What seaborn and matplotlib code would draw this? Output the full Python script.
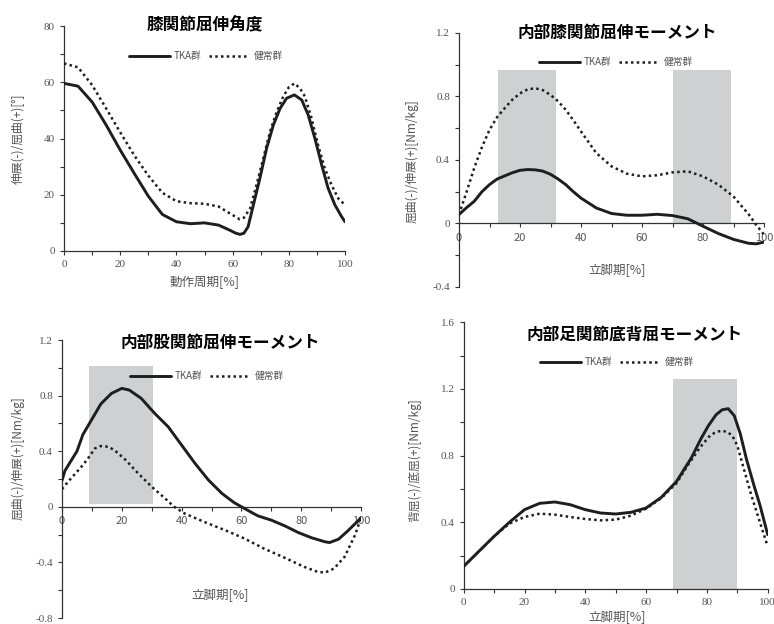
import matplotlib
matplotlib.use("Agg")
import matplotlib.pyplot as plt
import pandas as pd
import seaborn as sns

# ---------------- data ----------------
knee_tka_x = [0, 5, 10, 15, 20, 25, 30, 35, 40, 45, 50, 55, 59, 61, 62.6, 64, 65.5, 67.4, 69.7,
              72.1, 74.5, 76.9, 79.2, 82, 84.6, 86.9, 89.3, 91.7, 94, 96.4, 98.8, 100]
knee_tka = [59.6, 58.6, 53, 44.8, 35.9, 27.6, 19.5, 13, 10.4, 9.7, 10.0, 9.2, 7.4, 6.4, 5.9, 6.3,
            8.6, 16.4, 25.8, 36.5, 44.8, 50.7, 54.3, 55.5, 53.7, 48.4, 40, 30.6, 22.3, 16.4, 12.2,
            10.4]
knee_healthy_x = [0, 5, 10, 15, 20, 25, 30, 35, 40, 45, 50, 55, 59, 62.5, 64, 66.2, 68.5, 70.9,
                  73.3, 75.7, 78, 80, 82, 84, 85.7, 88.1, 90.4, 92.8, 95.2, 97.6, 100]
knee_healthy = [66.7, 65.3, 59, 50.7, 42.2, 34, 26.8, 20.7, 17.7, 17, 16.8, 15.8, 13.4, 11.3, 11.8,
                15.1, 23.5, 32.9, 42.4, 49.5, 54.9, 58.2, 59.6, 57.8, 55, 47.2, 37.7, 29.4, 23.5,
                18.7, 16.4]

kmom_x = [0, 2.5, 5, 7.5, 10, 12.5, 15, 17.5, 20, 22.5, 25, 27.5, 30, 32.5, 35, 37.5, 40, 45, 50,
          55, 60, 65, 70, 75, 80, 85, 90, 95, 97.5, 100]
kmom_tka = [0.057, 0.10, 0.14, 0.20, 0.245, 0.28, 0.30, 0.32, 0.335, 0.34, 0.338, 0.33, 0.31, 0.28,
            0.245, 0.20, 0.16, 0.098, 0.063, 0.052, 0.052, 0.058, 0.05, 0.03, -0.017, -0.063,
            -0.10, -0.125, -0.128, -0.117]
kmom_healthy = [0.057, 0.20, 0.35, 0.48, 0.59, 0.67, 0.727, 0.78, 0.82, 0.845, 0.852, 0.84, 0.81,
                0.77, 0.716, 0.65, 0.58, 0.444, 0.36, 0.314, 0.297, 0.304, 0.322, 0.329, 0.297,
                0.245, 0.17, 0.057, -0.01, -0.07]
kmom_spans = [(12.7, 31.7), (70.2, 89.2)]
kmom_span_top = 0.97

hip_x = [0, 1, 3, 5, 7, 10, 13, 16.5, 20, 22.5, 26.5, 31, 35.5, 40, 44.5, 49, 53.5, 57.5, 61,
         65.5, 70, 74.5, 79, 83.5, 88, 89.5, 92.5, 95.5, 100]
hip_tka = [0.19, 0.26, 0.33, 0.40, 0.52, 0.63, 0.74, 0.815, 0.852, 0.84, 0.78, 0.672, 0.576, 0.444,
           0.312, 0.192, 0.096, 0.031, -0.012, -0.065, -0.096, -0.137, -0.185, -0.223, -0.252,
           -0.257, -0.233, -0.175, -0.08]
hip_healthy_x = [0, 2, 4, 7, 9.5, 11, 13, 15.5, 17.5, 21, 25.5, 30, 34.5, 37.5, 41, 47.5, 54.5, 61,
                 67.5, 74.5, 81, 85.5, 88, 91, 94.5, 98, 100]
hip_healthy = [0.127, 0.18, 0.228, 0.30, 0.372, 0.42, 0.437, 0.432, 0.408, 0.343, 0.24, 0.144, 0.06,
               0.0, -0.048, -0.108, -0.168, -0.228, -0.30, -0.367, -0.432, -0.468, -0.473, -0.444,
               -0.36, -0.204, -0.08]
hip_spans = [(9.1, 30.5)]
hip_span_bottom = 0.02
hip_span_top = 1.01

ank_tka_x = [0, 5, 10, 15, 20, 25, 30, 35, 40, 45, 50, 55, 60, 65, 70, 75, 78, 80.5, 83, 85,
             87, 89, 91, 93, 95.5, 97.5, 100]
ank_tka = [0.136, 0.226, 0.316, 0.40, 0.476, 0.514, 0.522, 0.506, 0.476, 0.456, 0.45, 0.46, 0.486,
           0.55, 0.645, 0.79, 0.9, 0.98, 1.045, 1.075, 1.082, 1.04, 0.93, 0.78, 0.62, 0.5, 0.326]
ank_healthy_x = [0, 5, 10, 15, 20, 25, 30, 35, 40, 45, 50, 55, 60, 65, 70, 74.5, 78, 81, 83,
                 85, 87, 88.5, 90, 92, 94.5, 96.5, 98.5, 100]
ank_healthy = [0.136, 0.226, 0.316, 0.392, 0.432, 0.452, 0.446, 0.432, 0.42, 0.412, 0.416, 0.44,
               0.482, 0.545, 0.635, 0.764, 0.855, 0.92, 0.942, 0.95, 0.94, 0.915, 0.86, 0.73, 0.57,
               0.454, 0.34, 0.256]
ank_spans = [(68.8, 89.9)]
ank_span_top = 1.258

# ---------------- style ----------------
sns.set_style("ticks")
plt.rcParams["font.family"] = ["Noto Sans CJK JP", "DejaVu Sans"]

W, H = 774, 624
fig = plt.figure(figsize=(W / 100, H / 100), dpi=100)


def fx(px):
    return px / W


def fy(py):
    return 1 - py / H


def make_ax(left, top, right, bottom):
    return fig.add_axes([fx(left), fy(bottom), (right - left) / W, (bottom - top) / H])


LINE = "#1e1e1e"
SHADE = "#cfd0d2"
AXC = "#333333"
TXT = "#555555"
SERIF = "Liberation Serif"


def draw(ax, x, tka, hx, healthy, ylim, yticks, yminor, spans, span_lo, span_hi,
         title, title_xy, leg_xy, xlabel, xlabel_xy, ylabel, ylabel_xy, zero_axis):
    for a, b in spans:
        ax.fill_between([a, b], [span_lo, span_lo], [span_hi, span_hi], color=SHADE, lw=0, zorder=0)
    d1 = pd.DataFrame({"x": x, "y": tka})
    d2 = pd.DataFrame({"x": hx, "y": healthy})
    sns.lineplot(data=d1, x="x", y="y", ax=ax, color=LINE, lw=2.1, label="TKA群",
                 estimator=None, sort=False, zorder=3, solid_joinstyle="round")
    sns.lineplot(data=d2, x="x", y="y", ax=ax, color=LINE, lw=1.8, linestyle=(0, (1, 1.3)),
                 label="健常群", estimator=None, sort=False, zorder=3)
    ax.set_xlim(0, 100)
    ax.set_ylim(*ylim)
    ax.set_xticks([0, 20, 40, 60, 80, 100], labels=["0", "20", "40", "60", "80", "100"])
    ax.set_xticks([10, 30, 50, 70, 90], minor=True)
    ax.set_yticks(yticks, labels=[f"{v:g}" for v in yticks])
    ax.set_yticks(yminor, minor=True)
    ax.tick_params(which="both", direction="out", length=3, width=0.8, colors=AXC,
                   labelcolor=TXT, labelsize=8)
    for lab in ax.get_xticklabels() + ax.get_yticklabels():
        lab.set_fontfamily(SERIF)
    for s in ["top", "right"]:
        ax.spines[s].set_visible(False)
    for s in ["left", "bottom"]:
        ax.spines[s].set_color(AXC)
        ax.spines[s].set_linewidth(0.9)
    if zero_axis:
        ax.spines["bottom"].set_position(("data", 0))
    ax.patch.set_alpha(0)
    ax.set_xlabel(xlabel, fontsize=9, color=TXT)
    ax.xaxis.set_label_coords(fx(xlabel_xy[0]), fy(xlabel_xy[1]), transform=fig.transFigure)
    ax.xaxis.label.set_va("center")
    ax.set_ylabel(ylabel, fontsize=8.5, color=TXT)
    ax.yaxis.set_label_coords(fx(ylabel_xy[0]), fy(ylabel_xy[1]), transform=fig.transFigure)
    ax.yaxis.label.set_va("center")
    ax.yaxis.label.set_ha("center")
    fig.text(fx(title_xy[0]), fy(title_xy[1]), title, ha="center", va="center",
             fontsize=12, fontweight="bold", color="#000000")
    leg = ax.legend(loc="center", bbox_to_anchor=(fx(leg_xy[0]), fy(leg_xy[1])),
                    bbox_transform=fig.transFigure, ncol=2, frameon=False, fontsize=7,
                    handlelength=4.2, handletextpad=0.4, columnspacing=0.7)
    for t in leg.get_texts():
        t.set_color(TXT)


ax1 = make_ax(64, 26, 345, 251)
draw(ax1, knee_tka_x, knee_tka, knee_healthy_x, knee_healthy, (0, 80), [0, 20, 40, 60, 80],
     [10, 30, 50, 70], [], 0, 0, "膝関節屈伸角度", (205, 25), (206, 56), "動作周期[%]", (205, 283),
     "伸展(-)/屈曲(+)[°]", (18, 139), False)

ax2 = make_ax(459, 33, 764, 287)
draw(ax2, kmom_x, kmom_tka, kmom_x, kmom_healthy, (-0.4, 1.2), [-0.4, 0, 0.4, 0.8, 1.2],
     [-0.2, 0.2, 0.6, 1.0], kmom_spans, 0, kmom_span_top, "内部膝関節屈伸モーメント", (617, 33),
     (616, 62), "立脚期[%]", (617, 270), "屈曲(-)/伸展(+)[Nm/kg]", (412, 161), True)

ax3 = make_ax(62, 340, 361, 618)
draw(ax3, hip_x, hip_tka, hip_healthy_x, hip_healthy, (-0.8, 1.2), [-0.8, -0.4, 0, 0.4, 0.8, 1.2],
     [-0.6, -0.2, 0.2, 0.6, 1.0], hip_spans, hip_span_bottom, hip_span_top,
     "内部股関節屈伸モーメント", (220, 343), (207, 376), "立脚期[%]", (220, 595),
     "屈曲(-)/伸展(+)[Nm/kg]", (18, 458), True)

ax4 = make_ax(463.7, 322.3, 767.7, 589)
draw(ax4, ank_tka_x, ank_tka, ank_healthy_x, ank_healthy, (0, 1.6), [0, 0.4, 0.8, 1.2, 1.6],
     [0.2, 0.6, 1.0, 1.4], ank_spans, 0, ank_span_top, "内部足関節底背屈モーメント", (635, 335),
     (617, 362), "立脚期[%]", (617, 617), "背屈(-)/底屈(+)[Nm/kg]", (415, 460), False)

fig.savefig("out.png", dpi=100)
